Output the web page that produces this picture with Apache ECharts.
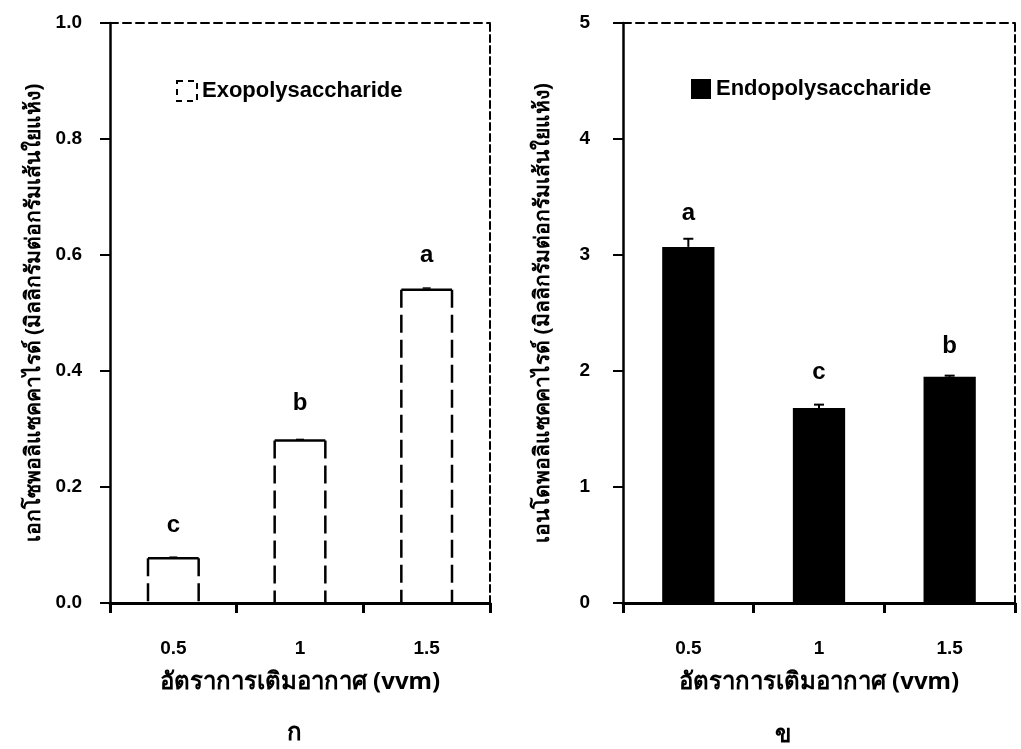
<!DOCTYPE html>
<html><head><meta charset="utf-8">
<script src="https://cdn.jsdelivr.net/npm/echarts@6/dist/echarts.min.js"></script>
<style>html,body{margin:0;padding:0;background:#fff}#c{width:1021px;height:749px}</style>
</head><body><div id="c"></div><script>
const categories = ['0.5', '1', '1.5'];
const exoValues = [0.077, 0.28, 0.54];
const exoErrors = [0.002, 0.002, 0.003];
const exoLetters = ['c', 'b', 'a'];
const exoLetterY = [0.133, 0.345, 0.6];
const endoValues = [3.07, 1.68, 1.95];
const endoErrors = [0.07, 0.03, 0.01];
const endoLetters = ['a', 'c', 'b'];
const endoLetterY = [3.36, 1.99, 2.21];
const xTitle = 'อัตราการเติมอากาศ (vvm)';
const exoYTitle = 'เอกโซพอลิแซคคาไรด์ (มิลลิกรัมต่อกรัมเส้นใยแห้ง)';
const endoYTitle = 'เอนโดพอลิแซคคาไรด์ (มิลลิกรัมต่อกรัมเส้นใยแห้ง)';
const panelCaptions = ['ก', 'ข'];

const FONT = 'Liberation Sans, Arial, sans-serif';
const THAI = 'Noto Sans, DejaVu Sans, sans-serif';

// outlined bar (dashed sides, solid top) + error bar
function exoRender(params, api) {
  const i = api.value(0), v = api.value(1), e = api.value(2);
  const base = api.coord([i, v]);
  const zero = api.coord([i, 0]);
  const top = api.coord([i, v + e]);
  const bw = api.size([1, 0])[0] * 0.4;
  const L = base[0] - bw / 2, R = base[0] + bw / 2;
  const dash = { stroke: '#000', lineWidth: 2.5, lineDash: [18, 7] };
  return {
    type: 'group', children: [
      { type: 'line', shape: { x1: L, y1: base[1], x2: L, y2: zero[1] }, style: dash },
      { type: 'line', shape: { x1: R, y1: base[1], x2: R, y2: zero[1] }, style: dash },
      { type: 'line', shape: { x1: L, y1: base[1], x2: R, y2: base[1] }, style: { stroke: '#000', lineWidth: 2.5 } },
      { type: 'line', shape: { x1: base[0] - 4, y1: top[1], x2: base[0] + 4, y2: top[1] }, style: { stroke: '#000', lineWidth: 1.5 } }
    ]
  };
}
function endoErrRender(params, api) {
  const i = api.value(0), v = api.value(1), e = api.value(2);
  const base = api.coord([i, v]);
  const top = api.coord([i, v + e]);
  return {
    type: 'group', children: [
      { type: 'line', shape: { x1: top[0], y1: base[1], x2: top[0], y2: top[1] }, style: { stroke: '#000', lineWidth: 2 } },
      { type: 'line', shape: { x1: top[0] - 5, y1: top[1], x2: top[0] + 5, y2: top[1] }, style: { stroke: '#000', lineWidth: 2 } }
    ]
  };
}

function xAxes(g) {
  return [{
    type: 'category', gridIndex: g, data: categories, position: 'bottom',
    axisLine: { show: true, onZero: false, lineStyle: { color: '#000', width: 3 } },
    axisTick: { show: true, length: 10, lineStyle: { color: '#000', width: 3 } },
    axisLabel: { color: '#000', fontFamily: FONT, fontWeight: 'bold', fontSize: 19, margin: 36 },
    name: xTitle, nameLocation: 'middle', nameGap: 67,
    nameTextStyle: { color: '#000', fontFamily: THAI, fontWeight: 'bold', fontSize: 24 }
  }, {
    type: 'category', gridIndex: g, data: categories, position: 'top',
    axisLine: { show: true, onZero: false, lineStyle: { color: '#000', width: 2, type: [8, 5] } },
    axisTick: { show: false }, axisLabel: { show: false }
  }];
}
function yAxes(g, max, interval, dec, title, gap, margin) {
  return [{
    type: 'value', gridIndex: g, min: 0, max: max, interval: interval, position: 'left',
    axisLine: { show: true, onZero: false, lineStyle: { color: '#000', width: 2.5 } },
    axisTick: { show: true, length: 10, lineStyle: { color: '#000', width: 2 } },
    splitLine: { show: false },
    axisLabel: { color: '#000', fontFamily: FONT, fontWeight: 'bold', fontSize: 19, margin: margin, formatter: v => v.toFixed(dec) },
    name: title, nameLocation: 'middle', nameGap: gap, nameRotate: 90,
    nameTextStyle: { color: '#000', fontFamily: THAI, fontWeight: 'bold', fontSize: 21 }
  }, {
    type: 'value', gridIndex: g, min: 0, max: max, interval: interval, position: 'right',
    axisLine: { show: true, onZero: false, lineStyle: { color: '#000', width: 2, type: [7, 4] } },
    axisTick: { show: false }, axisLabel: { show: false }, splitLine: { show: false }
  }];
}

const letterLabel = { show: true, position: 'inside', color: '#000', opacity: 1, fontFamily: FONT, fontWeight: 'bold', fontSize: 24 };

const option = {
  animation: false,
  backgroundColor: '#fff',
  grid: [
    { left: 110, top: 23, width: 380, height: 580 },
    { left: 623, top: 23, width: 392, height: 580 }
  ],
  xAxis: [...xAxes(0), ...xAxes(1)],
  yAxis: [...yAxes(0, 1, 0.2, 1, exoYTitle, 65, 28), ...yAxes(1, 5, 1, 0, endoYTitle, 69, 33)],
  legend: [{
    data: ['Exopolysaccharide'], left: 171, top: 75, icon: 'rect', itemWidth: 20, itemHeight: 20, itemGap: 11,
    itemStyle: { color: 'rgba(0,0,0,0)', borderColor: '#000', borderWidth: 2, borderType: [6, 5] },
    textStyle: { color: '#000', fontFamily: FONT, fontWeight: 'bold', fontSize: 22 }
  }, {
    data: ['Endopolysaccharide'], left: 686, top: 73, icon: 'rect', itemWidth: 20, itemHeight: 20, itemGap: 10,
    itemStyle: { color: '#000' },
    textStyle: { color: '#000', fontFamily: FONT, fontWeight: 'bold', fontSize: 22 }
  }],
  series: [
    {
      name: 'Exopolysaccharide', type: 'bar', xAxisIndex: 0, yAxisIndex: 0, barWidth: '40%',
      data: exoValues, itemStyle: { color: 'rgba(0,0,0,0)' }, silent: true
    },
    {
      type: 'custom', xAxisIndex: 0, yAxisIndex: 0, z: 5,
      renderItem: exoRender,
      data: exoValues.map((v, i) => [i, v, exoErrors[i]])
    },
    {
      type: 'scatter', xAxisIndex: 0, yAxisIndex: 0, symbolSize: 0, silent: true,
      data: exoLetterY.map((y, i) => ({ value: [i, y], label: { ...letterLabel, formatter: exoLetters[i] } }))
    },
    {
      name: 'Endopolysaccharide', type: 'bar', xAxisIndex: 2, yAxisIndex: 2, barWidth: '40%',
      data: endoValues, itemStyle: { color: '#000' }
    },
    {
      type: 'custom', xAxisIndex: 2, yAxisIndex: 2, z: 5,
      renderItem: endoErrRender,
      data: endoValues.map((v, i) => [i, v, endoErrors[i]])
    },
    {
      type: 'scatter', xAxisIndex: 2, yAxisIndex: 2, symbolSize: 0, silent: true,
      data: endoLetterY.map((y, i) => ({ value: [i, y], label: { ...letterLabel, formatter: endoLetters[i] } }))
    }
  ],
  graphic: [
    { type: 'text', left: 287, top: 721, style: { text: panelCaptions[0], fill: '#000', font: 'bold 24px ' + THAI } },
    { type: 'text', left: 775, top: 723, style: { text: panelCaptions[1], fill: '#000', font: 'bold 24px ' + THAI } }
  ]
};
const chart = echarts.init(document.getElementById('c'), null, { renderer: 'canvas' });
chart.setOption(option);
</script></body></html>
